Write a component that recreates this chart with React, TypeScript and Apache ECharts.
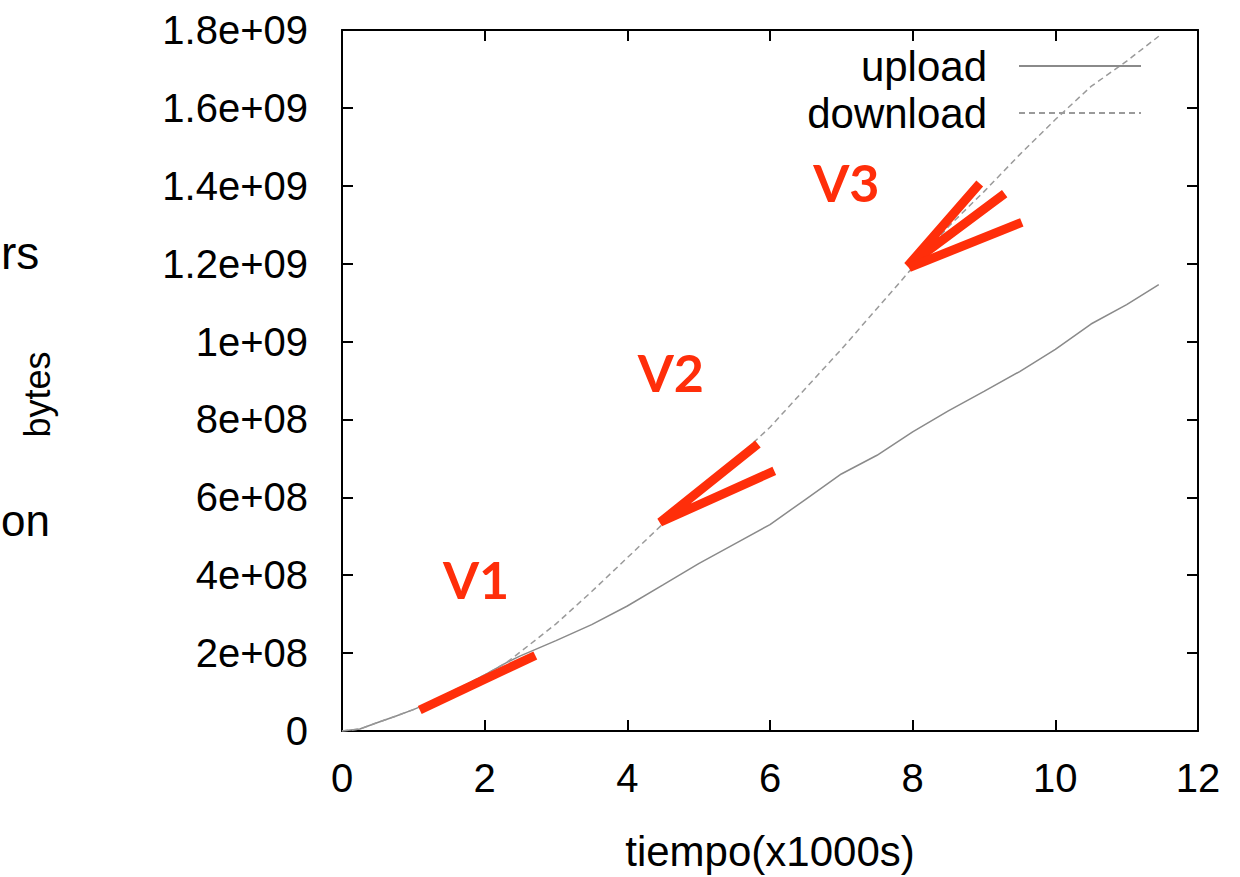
import React, { useEffect, useRef } from "react";
import * as echarts from "echarts";

// tiempo (x1000 s)
const tiempo = [0, 0.25, 0.5, 0.75, 1, 1.25, 1.5, 1.75, 2, 2.3, 2.5, 3, 3.5, 4, 4.5, 5, 5.5, 6, 6.5, 7, 7.5, 8, 8.5, 9, 9.5, 10, 10.5, 11, 11.45];
// bytes
const upload = [0, 0.05e8, 0.22e8, 0.38e8, 0.55e8, 0.74e8, 0.98e8, 1.2e8, 1.44e8, 1.75e8, 1.93e8, 2.32e8, 2.73e8, 3.21e8, 3.75e8, 4.3e8, 4.8e8, 5.3e8, 5.95e8, 6.6e8, 7.08e8, 7.68e8, 8.22e8, 8.72e8, 9.23e8, 9.8e8, 10.45e8, 10.95e8, 11.46e8];
const download = [0, 0.05e8, 0.22e8, 0.38e8, 0.55e8, 0.74e8, 0.98e8, 1.2e8, 1.44e8, 1.75e8, 2.03e8, 2.75e8, 3.58e8, 4.45e8, 5.32e8, 6.2e8, 6.95e8, 7.8e8, 8.8e8, 9.8e8, 10.85e8, 11.9e8, 12.95e8, 13.85e8, 14.8e8, 15.7e8, 16.55e8, 17.2e8, 17.84e8];

// red annotation strokes (data coordinates)
const v1Stroke = [[1.09, 0.54e8], [2.71, 1.94e8]];
const v2Stroke = [[5.83, 7.37e8], [4.46, 5.36e8], [6.06, 6.68e8]];
const v3StrokeA = [[8.94, 14.06e8], [7.93, 11.94e8], [9.29, 13.8e8]];
const v3StrokeB = [[7.95, 11.9e8], [9.53, 13.06e8]];
const annotLabels = ["V1", "V2", "V3"];
const annotX = [1.88, 4.61, 7.07];
const annotY = [3.9e8, 9.21e8, 14.1e8];

const seriesNames = ["upload", "download"];

const FONT = "'Liberation Sans', Arial, Helvetica, sans-serif";
const RED = "#ff2e0a";

function fmtExp(v: number): string {
  if (v === 0) return "0";
  const e = Math.floor(Math.log10(v) + 1e-9);
  const m = Math.round((v / Math.pow(10, e)) * 10) / 10;
  const es = e < 10 ? "0" + e : String(e);
  return `${m}e+${es}`;
}

export default function App() {
  const ref = useRef<HTMLDivElement>(null);
  useEffect(() => {
    if (!ref.current) return;
    const chart = echarts.init(ref.current, undefined, { renderer: "svg" });
    const axisLine = { show: true, onZero: false, lineStyle: { color: "#000", width: 2 } };
    const axisTick = { show: true, inside: true, length: 11, lineStyle: { color: "#000", width: 2 } };
    const redLine = (data: number[][]) => ({
      type: "line",
      data,
      symbol: "none",
      silent: true,
      z: 10,
      lineStyle: { color: RED, width: 9, cap: "butt", join: "miter" },
    });
    chart.setOption({
      animation: false,
      backgroundColor: "#fff",
      grid: { left: 342, right: 42, top: 30, bottom: 141, containLabel: false },
      legend: {
        data: seriesNames,
        orient: "vertical",
        right: 93,
        top: 40,
        align: "right",
        itemWidth: 122,
        itemHeight: 10,
        itemGap: 5,
        selectedMode: false,
        itemStyle: { opacity: 0 },
        textStyle: { fontSize: 42, fontFamily: FONT, color: "#000", padding: [0, 27, 0, 0] },
      },
      xAxis: [
        {
          type: "value",
          min: 0,
          max: 12,
          interval: 2,
          position: "bottom",
          axisLine,
          axisTick,
          splitLine: { show: false },
          axisLabel: { fontSize: 40, fontFamily: FONT, color: "#000", margin: 27, showMinLabel: true, showMaxLabel: true },
          name: "tiempo(x1000s)",
          nameLocation: "middle",
          nameGap: 99,
          nameTextStyle: { fontSize: 42, fontFamily: FONT, color: "#000" },
        },
        {
          type: "value",
          min: 0,
          max: 12,
          interval: 2,
          position: "top",
          axisLine,
          axisTick,
          splitLine: { show: false },
          axisLabel: { show: false },
        },
      ],
      yAxis: [
        {
          type: "value",
          min: 0,
          max: 1.8e9,
          interval: 2e8,
          position: "left",
          axisLine,
          axisTick,
          splitLine: { show: false },
          axisLabel: { fontSize: 40, fontFamily: FONT, color: "#000", margin: 34, formatter: fmtExp, showMinLabel: true, showMaxLabel: true },
          name: "bytes",
          nameLocation: "middle",
          nameRotate: 90,
          nameGap: 287,
          nameTextStyle: { fontSize: 36, fontFamily: FONT, color: "#000", padding: [0, 28, 0, 0] },
        },
        {
          type: "value",
          min: 0,
          max: 1.8e9,
          interval: 2e8,
          position: "right",
          axisLine,
          axisTick,
          splitLine: { show: false },
          axisLabel: { show: false },
        },
      ],
      series: [
        {
          name: "upload",
          type: "line",
          data: tiempo.map((t, i) => [t, upload[i]]),
          symbol: "none",
          lineStyle: { color: "#8a8a8a", width: 1.5 },
          itemStyle: { color: "#8a8a8a" },
        },
        {
          name: "download",
          type: "line",
          data: tiempo.map((t, i) => [t, download[i]]),
          symbol: "none",
          lineStyle: { color: "#9a9a9a", width: 1.5, type: [6, 4] },
          itemStyle: { color: "#9a9a9a" },
        },
        redLine(v1Stroke),
        redLine(v2Stroke),
        redLine(v3StrokeA),
        redLine(v3StrokeB),
        {
          type: "scatter",
          data: annotLabels.map((n, i) => ({ value: [annotX[i], annotY[i]], name: n })),
          symbolSize: 1,
          itemStyle: { color: "rgba(255,255,255,0)", opacity: 1 },
          silent: true,
          z: 11,
          label: {
            show: true,
            position: "inside",
            formatter: (p: any) => p.name,
            fontSize: 52,
            fontWeight: "bold",
            fontFamily: "Lato, 'Liberation Sans', sans-serif",
            color: RED,
            opacity: 1,
          },
        },
      ],
      graphic: [
        {
          type: "text",
          x: 1,
          y: 253,
          style: { text: "rs", fontSize: 46, fontFamily: FONT, fill: "#000", align: "left", verticalAlign: "middle" },
        },
        {
          type: "text",
          x: 1,
          y: 520,
          style: { text: "on", fontSize: 44, fontFamily: FONT, fill: "#000", align: "left", verticalAlign: "middle" },
        },
      ],
    });
    return () => chart.dispose();
  }, []);
  return <div ref={ref} style={{ position: "absolute", left: 0, top: 0, width: 1240, height: 877 }} />;
}
